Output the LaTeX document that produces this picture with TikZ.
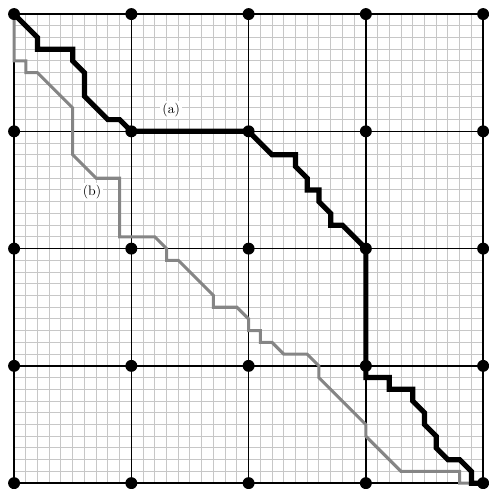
\documentclass[tikz,border=0pt]{standalone}
\begin{document}
\begin{tikzpicture}[x=0.3cm,y=-0.3cm,
  fine/.style={draw=black!22, line width=0.75pt},
  major/.style={draw=black, line width=1.1pt},
  patha/.style={draw=black, line width=3.8pt},
  pathb/.style={draw=black!48, line width=2.2pt},
  dot/.style={circle, fill=black, inner sep=0pt, minimum size=8.7pt},
  lab/.style={fill=white, inner sep=1.5pt, font=\fontsize{10}{12}\selectfont}]
\useasboundingbox (-1.2,-1.2) rectangle (40.5,40.5);
\foreach \i in {0,...,40} {
  \draw[fine] (\i,0) -- (\i,40);
  \draw[fine] (0,\i) -- (40,\i);
}
\foreach \i in {0,10,...,40} {
  \draw[major] (\i,0) -- (\i,40);
  \draw[major] (0,\i) -- (40,\i);
}
\draw[pathb] (0,0) -- (0,4) -- (1,4) -- (1,5) -- (2,5) -- (5,8) -- (5,12) -- (7,14) -- (9,14) -- (9,19) -- (12,19) -- (13,20) -- (13,21) -- (14,21) -- (17,24) -- (17,25) -- (19,25) -- (20,26) -- (20,27) -- (21,27) -- (21,28) -- (22,28) -- (23,29) -- (25,29) -- (26,30) -- (26,31) -- (30,35) -- (30,36) -- (33,39) -- (38,39) -- (38,40) -- (40,40);
\draw[patha] (0,0) -- (2,2) -- (2,3) -- (5,3) -- (5,4) -- (6,5) -- (6,7) -- (8,9) -- (9,9) -- (10,10) -- (20,10) -- (22,12) -- (24,12) -- (24,13) -- (25,14) -- (25,15) -- (26,15) -- (26,16) -- (27,17) -- (27,18) -- (28,18) -- (30,20) -- (30,31) -- (32,31) -- (32,32) -- (34,32) -- (34,33) -- (35,34) -- (35,35) -- (36,36) -- (36,37) -- (37,38) -- (38,38) -- (39,39) -- (39,40) -- (40,40);
\foreach \i in {0,...,4} {
  \foreach \j in {0,...,4} {
    \node[dot] (d\i\j) at (10*\i,10*\j) {};
  }
}
\node[lab] (la) at (13.4,8.2) {(a)};
\node[lab] (lb) at (6.65,15.2) {(b)};
\end{tikzpicture}
\end{document}
